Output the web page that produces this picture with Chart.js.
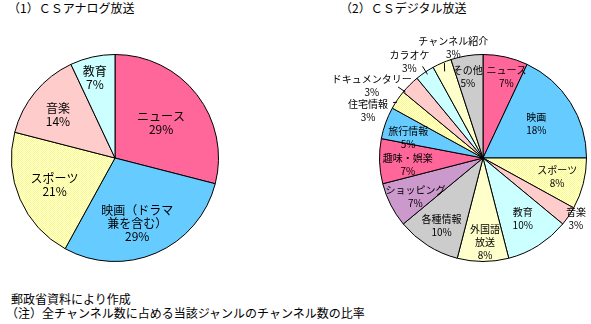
<!DOCTYPE html>
<html>
<head>
<meta charset="utf-8">
<script src="https://cdn.jsdelivr.net/npm/chart.js@4.4.1/dist/chart.umd.min.js"></script>
<style>
  html, body { margin: 0; padding: 0; background: #fff; }
  body { width: 591px; height: 324px; position: relative; overflow: hidden;
         font-family: "Noto Sans CJK JP", sans-serif; color: #000; }
  .txt { position: absolute; white-space: nowrap; font-size: 12px; line-height: 14px; }
  canvas { position: absolute; }
</style>
</head>
<body>
<div class="txt" style="left:8px; top:1px;">（1）ＣＳアナログ放送</div>
<div class="txt" style="left:340px; top:1px;">（2）ＣＳデジタル放送</div>
<div class="txt" style="left:11px; top:292px;">郵政省資料により作成</div>
<div class="txt" style="left:6px; top:306px;">（注）全チャンネル数に占める当該ジャンルのチャンネル数の比率</div>

<canvas id="analog" width="330" height="260" style="left:0; top:20px; width:330px; height:260px;"></canvas>
<canvas id="digital" width="261" height="260" style="left:330px; top:20px; width:261px; height:260px;"></canvas>

<script>
// Genre shares of channels (%)
const analogGenres = ['ニュース', '映画（ドラマ\n兼を含む）', 'スポーツ', '音楽', '教育'];
const analogShares = [29, 29, 21, 14, 7];

const digitalGenres = ['ニュース', '映画', 'スポーツ', '音楽', '教育', '外国語\n放送', '各種情報',
  'ショッピング', '趣味・娯楽', '旅行情報', '住宅情報', 'ドキュメンタリー', 'カラオケ', 'チャンネル紹介', 'その他'];
const digitalShares = [7, 18, 8, 3, 10, 8, 10, 7, 7, 5, 3, 3, 3, 3, 5];

// dithered yellow fill
function ditherYellow() {
  const c = document.createElement('canvas');
  c.width = 2; c.height = 2;
  const g = c.getContext('2d');
  g.fillStyle = '#ffffff'; g.fillRect(0, 0, 2, 2);
  g.fillStyle = '#ffff66'; g.fillRect(0, 0, 1, 1); g.fillRect(1, 1, 1, 1);
  return g.createPattern(c, 'repeat');
}
const YEL = ditherYellow();
const PINK = '#ff6699', BLUE = '#66ccff', LPINK = '#ffcccc', CYAN = '#ccffff',
      LYEL = '#ffffcc', GRAY = '#cccccc', PURP = '#cc99cc';

const analogColors = [PINK, BLUE, YEL, LPINK, CYAN];
const digitalColors = [PINK, BLUE, YEL, LPINK, CYAN, LYEL, GRAY, PURP, PINK, BLUE, YEL, LPINK, CYAN, LYEL, GRAY];

// Text labels placed relative to each arc: [radius factor, angle offset in degrees from the arc middle]
const pieLabels = {
  id: 'pieLabels',
  afterDatasetsDraw(chart, args, opts) {
    const ctx = chart.ctx;
    const meta = chart.getDatasetMeta(0);
    const values = chart.data.datasets[0].data;
    const rad = Math.PI / 180;
    ctx.save();
    ctx.font = opts.font;
    ctx.fillStyle = '#000';
    ctx.strokeStyle = '#000';
    ctx.lineWidth = 1;
    ctx.textAlign = 'center';
    ctx.textBaseline = 'middle';
    meta.data.forEach((arc, i) => {
      const p = arc.getProps(['x', 'y', 'startAngle', 'endAngle', 'outerRadius'], true);
      const mid = (p.startAngle + p.endAngle) / 2;
      const [f, off] = opts.place[i];
      const a = mid + off * rad;
      const cx = p.x + Math.cos(a) * p.outerRadius * f;
      const cy = p.y + Math.sin(a) * p.outerRadius * f;
      const lines = chart.data.labels[i].split('\n').concat([values[i] + '%']);
      lines.forEach((t, k) => {
        ctx.fillText(t, cx, cy + (k - (lines.length - 1) / 2) * opts.lineHeight);
      });
      const ld = opts.leaders && opts.leaders[i];
      if (ld) {
        const a1 = mid + ld[0] * rad, a2 = mid + ld[2] * rad;
        ctx.beginPath();
        ctx.moveTo(p.x + Math.cos(a1) * p.outerRadius * ld[1], p.y + Math.sin(a1) * p.outerRadius * ld[1]);
        ctx.lineTo(p.x + Math.cos(a2) * p.outerRadius * ld[3], p.y + Math.sin(a2) * p.outerRadius * ld[3]);
        ctx.stroke();
      }
    });
    ctx.restore();
  }
};

function pie(id, labels, data, colors, padding, labelOpts) {
  return new Chart(document.getElementById(id), {
    type: 'pie',
    data: {
      labels: labels,
      datasets: [{
        data: data,
        backgroundColor: colors,
        borderColor: '#000',
        borderWidth: 1,
        hoverOffset: 0
      }]
    },
    options: {
      responsive: false,
      devicePixelRatio: 1,
      animation: false,
      events: [],
      layout: { padding: padding },
      plugins: {
        legend: { display: false },
        tooltip: { enabled: false },
        pieLabels: labelOpts
      }
    },
    plugins: [pieLabels]
  });
}

pie('analog', analogGenres, analogShares, analogColors,
  { left: 11, top: 34, right: 111, bottom: 18 },
  {
    font: '12px "Noto Sans CJK JP"',
    lineHeight: 13,
    place: [[0.56, 0.5], [0.67, 4.7], [0.64, -0.8], [0.69, -2.6], [0.80, -1.5]]
  });

pie('digital', digitalGenres, digitalShares, digitalColors,
  { left: 49, top: 34, right: 4, bottom: 18 },
  {
    font: '10px "Noto Sans CJK JP"',
    lineHeight: 13,
    place: [[0.82, 3.4], [0.61, 0], [0.74, 0], [1.07, -1.2], [0.70, -0.9], [0.81, -1.4], [0.77, -1.1],
            [0.75, -2.5], [0.73, -3.5], [0.75, -4.4], [1.20, -11.9], [1.28, -12.1], [1.17, -3.2],
            [1.10, 8.3], [0.80, -1.6]],
    leaders: { 10: [-2.5, 1.02, -1.3, 0.99], 11: [-5.1, 1.07, -4.6, 0.985],
               12: [0.8, 1.06, 0.6, 0.97], 13: [1.3, 0.99, -0.5, 0.915] }
  });
</script>
</body>
</html>
